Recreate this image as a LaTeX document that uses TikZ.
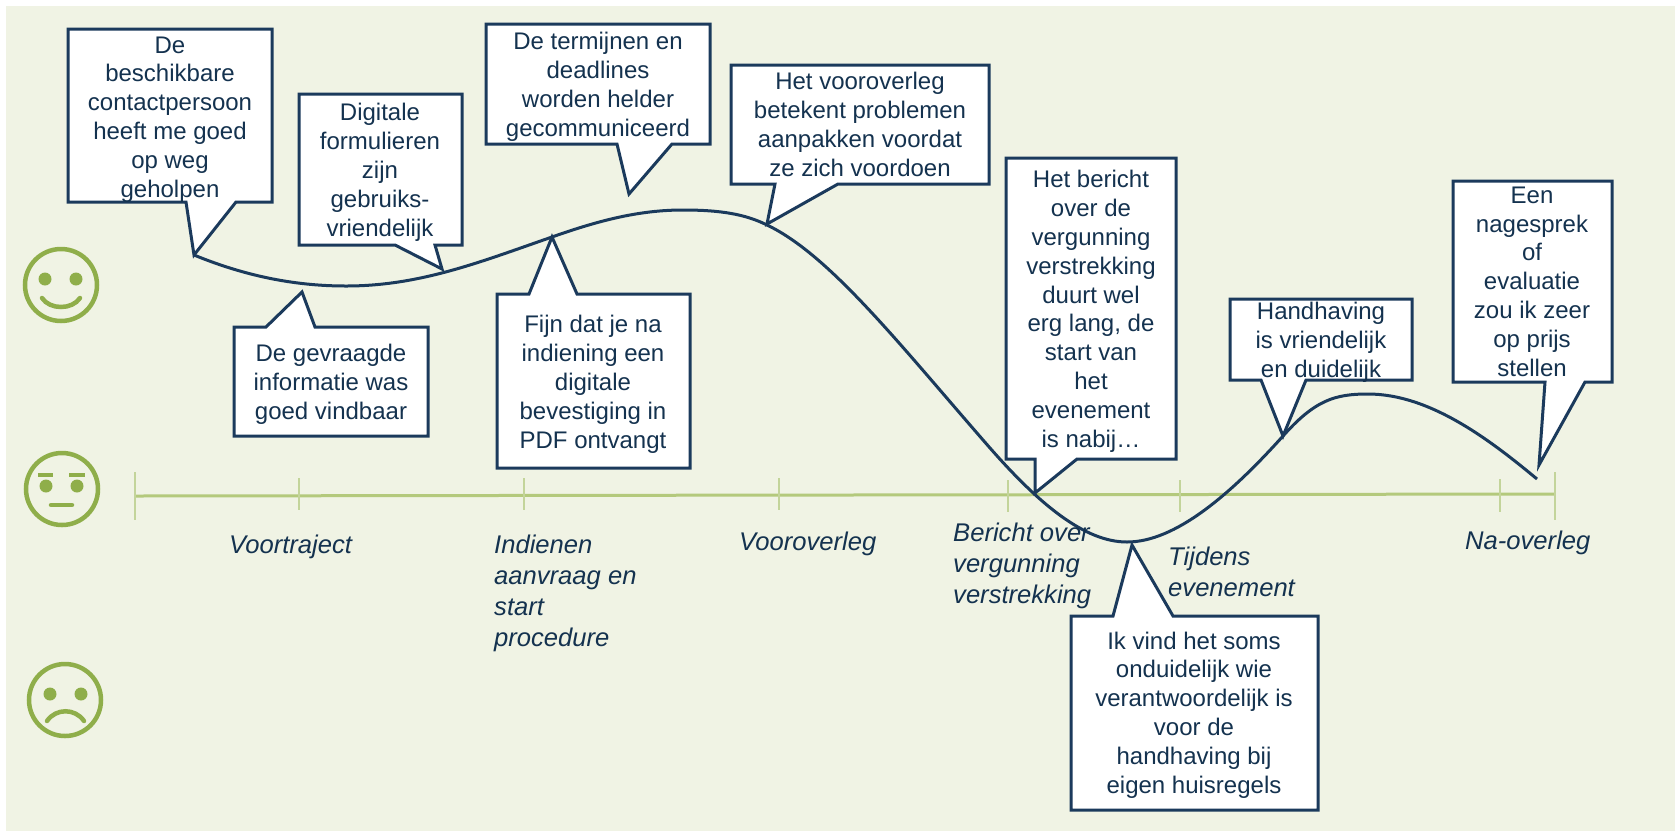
\documentclass[tikz,border=0pt]{standalone}
\usepackage{fontspec}
\setmainfont{Liberation Sans}
\definecolor{bgc}{HTML}{F0F3E4}
\definecolor{navy}{HTML}{1B3A5C}
\definecolor{ink}{HTML}{14324F}
\definecolor{lime}{HTML}{8FAE4A}
\definecolor{axisc}{HTML}{B4C97C}
\definecolor{tickc}{HTML}{C3D49A}
\tikzset{
  bubble/.style={draw=navy,fill=white,line width=3pt,line join=miter},
  bubbletext/.style={text=ink,align=center,anchor=base,inner sep=0pt,font=\fontsize{24}{28.8}\selectfont},
  phase/.style={text=ink,align=left,anchor=base west,inner sep=0pt,font=\fontsize{25.6}{31}\selectfont\itshape},
  face/.style={draw=lime,line width=4.5pt},
  feature/.style={draw=lime,line width=4.5pt,line cap=round},
  eye/.style={fill=lime},
  axisline/.style={draw=axisc,line width=3pt},
  tickline/.style={draw=tickc,line width=2pt},
  curveline/.style={draw=navy,line width=3pt,line join=round}
}
\begin{document}
\begin{tikzpicture}[x=1pt,y=-1pt]
\useasboundingbox (0,0) rectangle (1675,831);
\fill[bgc] (6,6) rectangle (1675,831);
% faces
\draw[face] (61,285) circle (36);
\fill[eye] (45,279) circle (6.5) (76,279) circle (6.5);
\draw[feature] (42,298) .. controls (50,310) and (72,310) .. (80,298);
\draw[face] (62,489) circle (36);
\fill[eye] (46,486) circle (6.5) (77,486) circle (6.5);
\draw[feature,line cap=butt] (38,475) -- (53,475) (69,475) -- (85,475);
\draw[feature] (51,505) -- (72,505);
\draw[face] (65,700) circle (36);
\fill[eye] (50,694) circle (6.5) (81,694) circle (6.5);
\draw[feature] (47,721) .. controls (56,708) and (75,708) .. (84,721);
% axis
\coordinate (a0) at (135,496);
\coordinate (a1) at (1555,494);
\draw[axisline] (a0) -- (a1);
\draw[tickline] (135,472) -- (135,520) (299,478) -- (299,510) (524,478) -- (524,510)
  (779,478) -- (779,510) (1008,480) -- (1008,512) (1180,480) -- (1180,512)
  (1500,479) -- (1500,512) (1555,472) -- (1555,520);
% curve
\draw[curveline] (194,255) .. controls (250,278) and (300,286) .. (346,286)
 .. controls (420,286) and (480,262) .. (552,237)
 .. controls (600,220) and (640,210) .. (683,210)
 .. controls (720,210) and (745,214) .. (767,225)
 .. controls (830,255) and (900,345) .. (990,448)
 .. controls (1040,505) and (1085,542) .. (1127,542)
 .. controls (1175,542) and (1230,495) .. (1283,436)
 .. controls (1315,400) and (1335,394) .. (1368,394)
 .. controls (1430,394) and (1490,440) .. (1537,479);
% callouts
\draw[bubble] (68,29) -- (272,29) -- (272,202) -- (236,202) -- (194,255) -- (186,202) -- (68,202) -- cycle;
\node[bubbletext] (b1) at (170,197) {De\\beschikbare\\contactpersoon\\heeft me goed\\op weg\\geholpen};
\draw[bubble] (299,94) -- (462,94) -- (462,245) -- (435,245) -- (442,269) -- (395,245) -- (299,245) -- cycle;
\node[bubbletext] (b2) at (380,236) {Digitale\\formulieren\\zijn\\gebruiks-\\vriendelijk};
\draw[bubble] (234,327) -- (266,327) -- (302,292) -- (315,327) -- (428,327) -- (428,436) -- (234,436) -- cycle;
\node[bubbletext] (b3) at (331,419) {De gevraagde\\informatie was\\goed vindbaar};
\draw[bubble] (486,24) -- (710,24) -- (710,144) -- (672,144) -- (629,194) -- (617,144) -- (486,144) -- cycle;
\node[bubbletext] (b4) at (598,136) {De termijnen en\\deadlines\\worden helder\\gecommuniceerd};
\draw[bubble] (497,294) -- (529,294) -- (552,237) -- (577,294) -- (690,294) -- (690,468) -- (497,468) -- cycle;
\node[bubbletext] (b5) at (593,448) {Fijn dat je na\\indiening een\\digitale\\bevestiging in\\PDF ontvangt};
\draw[bubble] (731,65) -- (989,65) -- (989,184) -- (838,184) -- (767,224) -- (775,184) -- (731,184) -- cycle;
\node[bubbletext] (b6) at (860,176) {Het vooroverleg\\betekent problemen\\aanpakken voordat\\ze zich voordoen};
\draw[bubble] (1006,158) -- (1176,158) -- (1176,459) -- (1077,459) -- (1035,493) -- (1035,459) -- (1006,459) -- cycle;
\node[bubbletext] (b7) at (1091,447) {Het bericht\\over de\\vergunning\\verstrekking\\duurt wel\\erg lang, de\\start van\\het\\evenement\\is nabij…};
\draw[bubble] (1230,299) -- (1412,299) -- (1412,380) -- (1306,380) -- (1283,436) -- (1261,380) -- (1230,380) -- cycle;
\node[bubbletext] (b8) at (1321,377) {Handhaving\\is vriendelijk\\en duidelijk};
\draw[bubble] (1453,181) -- (1612,181) -- (1612,382) -- (1585,382) -- (1539,465) -- (1545,382) -- (1453,382) -- cycle;
\node[bubbletext] (b9) at (1532,376) {Een\\nagesprek\\of\\evaluatie\\zou ik zeer\\op prijs\\stellen};
\draw[bubble] (1071,616) -- (1113,616) -- (1132,545) -- (1173,616) -- (1318,616) -- (1318,810) -- (1071,810) -- cycle;
\node[bubbletext] (b10) at (1194,793) {Ik vind het soms\\onduidelijk wie\\verantwoordelijk is\\voor de\\handhaving bij\\eigen huisregels};
% phases
\node[phase] (p1) at (229,553) {Voortraject};
\node[phase] (p2) at (494,646) {Indienen\\aanvraag en\\start\\procedure};
\node[phase] (p3) at (739,550) {Vooroverleg};
\node[phase] (p4) at (953,603) {Bericht over\\vergunning\\verstrekking};
\node[phase] (p5) at (1168,596) {Tijdens\\evenement};
\node[phase] (p6) at (1465,549) {Na-overleg};
\end{tikzpicture}
\end{document}
